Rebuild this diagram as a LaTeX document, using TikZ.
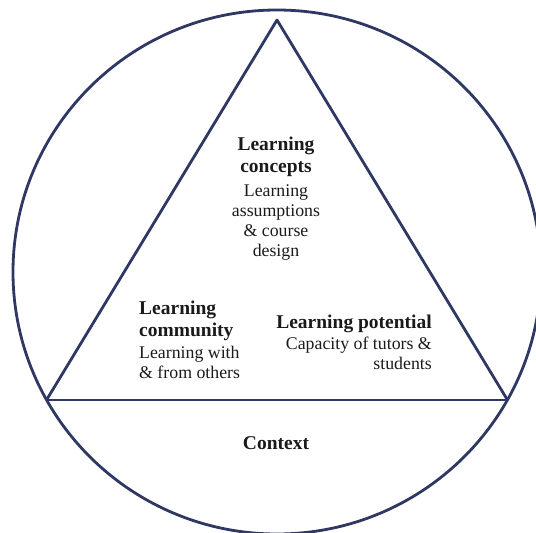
\documentclass[tikz,border=0pt]{standalone}
\usepackage{fontspec}
\setmainfont{Liberation Serif}
\usepackage{tikz}
\usetikzlibrary{positioning,calc}

\definecolor{edgeblue}{HTML}{2F3763}
\definecolor{inkblack}{HTML}{1A1A1A}
\newcommand{\headfont}{\fontsize{19.5}{22}\selectfont\bfseries}
\newcommand{\bodyfont}{\fontsize{17.8}{20}\selectfont}

\begin{document}
\begin{tikzpicture}[x=1pt,y=-1pt,
        ring/.style={draw=edgeblue, line width=2.8pt, line join=round},
        head/.style={font=\headfont, text=inkblack, inner sep=0pt},
        body/.style={font=\bodyfont, text=inkblack, inner sep=0pt}]
        \useasboundingbox (0,0) rectangle (536,533);
        % circle and triangle
        \coordinate (apex) at (277,20);
        \coordinate (lft) at (46.5,400);
        \coordinate (rgt) at (507.5,400);
        \draw[ring] (277,272) ellipse [x radius=264, y radius=262];
        \draw[ring] (lft) -- (apex) -- (rgt);
        \draw[ring] (lft) -- (rgt);
        % labels
        \node[head, align=center, anchor=north] (conh) at (276,137) {Learning\\concepts};
        \node[body, align=center, below=7pt of conh] (conb) {Learning\\assumptions\\\& course\\design};
        \node[head, align=left, anchor=north west] (comh) at (139,301) {Learning\\community};
        \node[body, align=left, below=5pt of comh.south west, anchor=north west] (comb) {Learning with\\\& from others};
        \node[head, anchor=north east] (poth) at (432,315) {Learning potential};
        \node[body, align=right, below=4pt of poth.south east, anchor=north east] (potb) {Capacity of tutors \&\\students};
        \node[head, anchor=base] (ctx) at (276,449) {Context};
\end{tikzpicture}
\end{document}
